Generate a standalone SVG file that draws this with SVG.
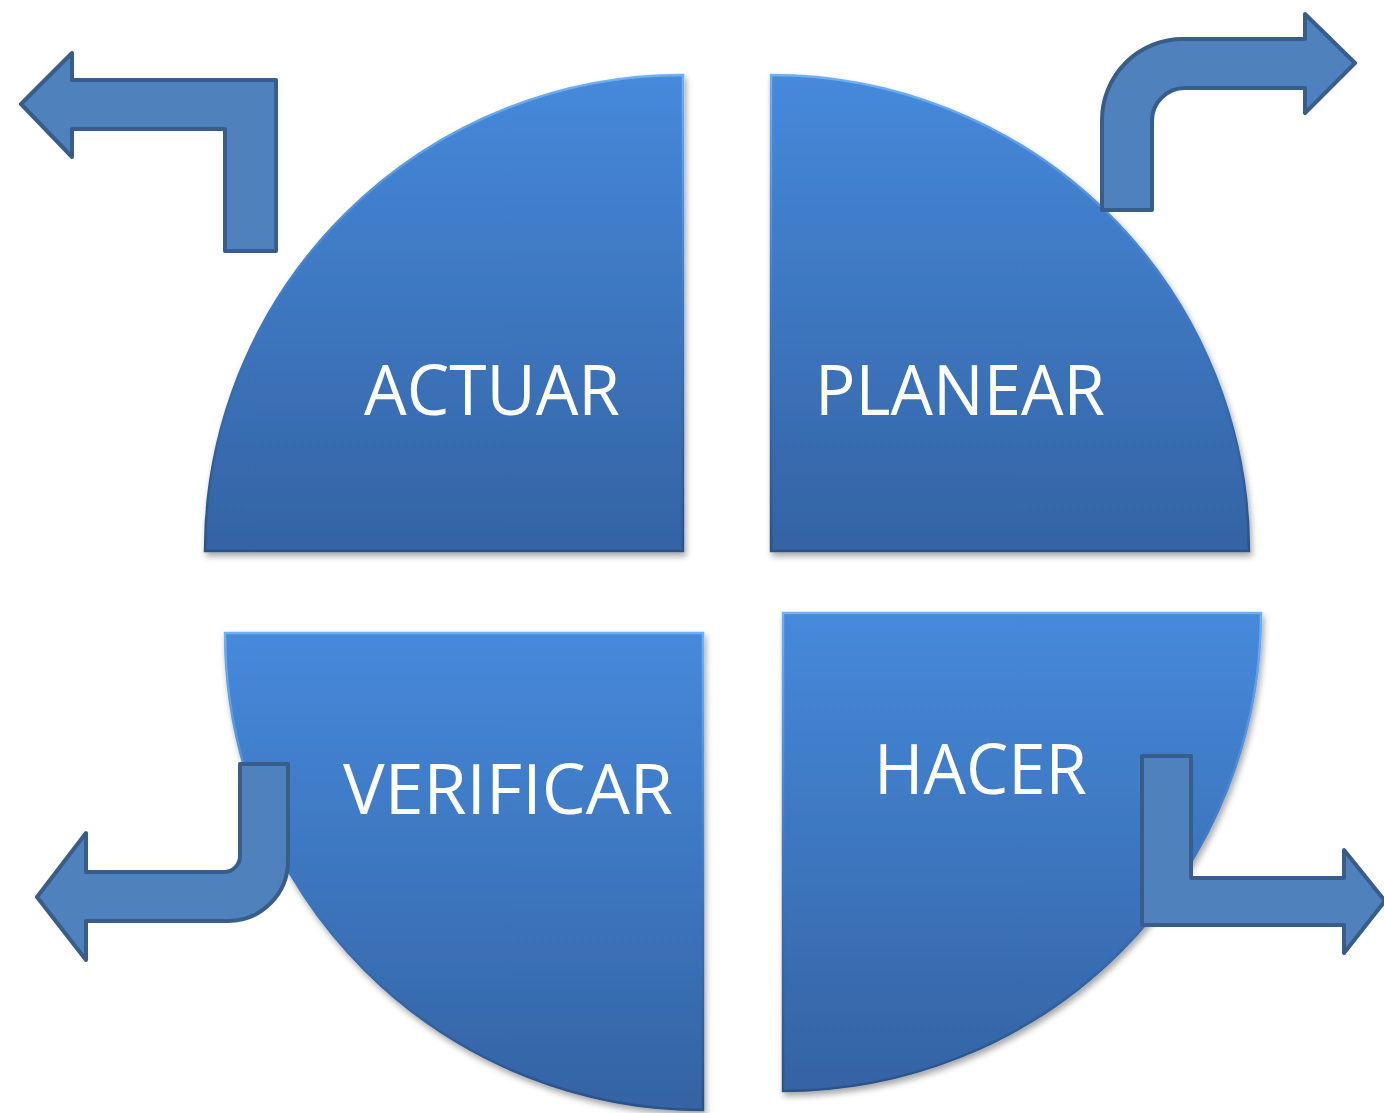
<svg xmlns="http://www.w3.org/2000/svg" width="1384" height="1113" viewBox="0 0 1384 1113">
  <defs>
    <linearGradient id="qfill" x1="0" y1="0" x2="0" y2="1">
      <stop offset="0" stop-color="#4689db"/>
      <stop offset="1" stop-color="#3463a3"/>
    </linearGradient>
    <linearGradient id="qedge" x1="0" y1="0" x2="0" y2="1">
      <stop offset="0" stop-color="#6fb0f4"/>
      <stop offset="0.5" stop-color="#3d78c4"/>
      <stop offset="1" stop-color="#2b5288"/>
    </linearGradient>
    <filter id="shadow" x="-10%" y="-10%" width="120%" height="120%">
      <feDropShadow dx="2" dy="4" stdDeviation="3" flood-color="#000" flood-opacity="0.35"/>
    </filter>
  </defs>
  <style>
    .quad { fill: url(#qfill); stroke: url(#qedge); stroke-width: 2.5; stroke-linejoin: miter; filter: url(#shadow); }
    .label { fill: #ffffff; font-family: "Open Sans", "Liberation Sans", sans-serif; font-size: 70px; }
    .arrow { fill: #4f81bd; stroke: #385d8a; stroke-width: 4; stroke-linejoin: round; }
  </style>
  <rect x="0" y="0" width="1384" height="1113" fill="#ffffff"/>

  <g id="actuar">
    <path class="quad" d="M683,551 L683,75 A477,476 0 0 0 205,551 Z"/>
    <text class="label" x="364" y="415" textLength="256" lengthAdjust="spacingAndGlyphs">ACTUAR</text>
  </g>
  <g id="planear">
    <path class="quad" d="M771,551 L771,75 A478,476 0 0 1 1249,551 Z"/>
    <text class="label" x="815" y="415" textLength="290" lengthAdjust="spacingAndGlyphs">PLANEAR</text>
  </g>
  <g id="verificar">
    <path class="quad" d="M703,633 L225,633 A478,477 0 0 0 703,1110 Z"/>
    <text class="label" x="343" y="814" textLength="330" lengthAdjust="spacingAndGlyphs">VERIFICAR</text>
  </g>
  <g id="hacer">
    <path class="quad" d="M783,613 L1261,613 A478,478 0 0 1 783,1091 Z"/>
    <text class="label" x="874" y="794" textLength="213" lengthAdjust="spacingAndGlyphs">HACER</text>
  </g>

  <g id="connectors">
    <path class="arrow" d="M21,104 L72,53 L72,80 L276,80 L276,251 L225,251 L225,129 L72,129 L72,157 Z" stroke-linejoin="miter"/>
    <path class="arrow" d="M1102,210 L1102,120 A81,81 0 0 1 1183,39 L1305,39 L1305,14 L1355,63 L1305,113 L1305,88 L1185,88 A33,33 0 0 0 1152,121 L1152,210 Z"/>
    <path class="arrow" d="M288,764 L288,861 A60,60 0 0 1 228,921 L86,921 L86,960 L37,897 L86,833 L86,872 L224,872 A16,16 0 0 0 240,856 L240,764 Z"/>
    <path class="arrow" d="M1142,756 L1191,756 L1191,878 L1344,878 L1344,850 L1385,901 L1344,953 L1344,925 L1142,925 Z" stroke-linejoin="miter"/>
  </g>
</svg>
